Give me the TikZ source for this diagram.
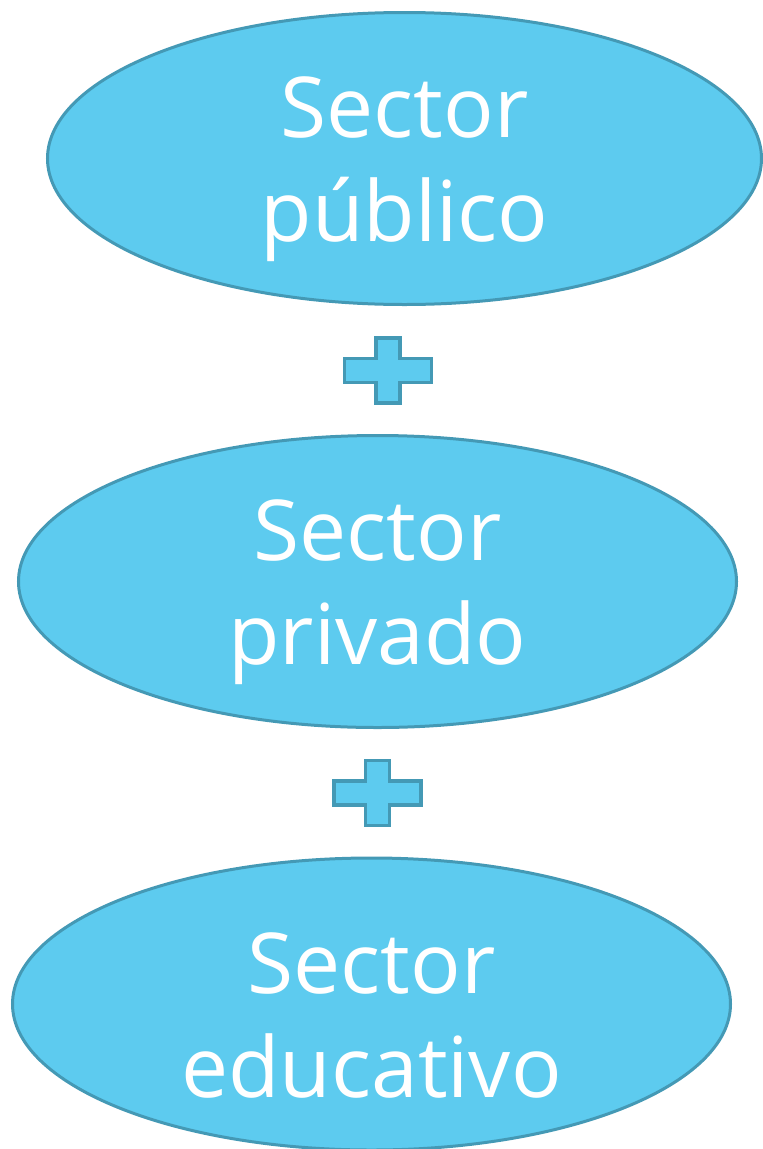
\documentclass[tikz,border=0pt]{standalone}
\usepackage{fontspec}
\setmainfont{Open Sans}
\usetikzlibrary{shapes.geometric,calc}
\definecolor{fillblue}{HTML}{5DCBEF}
\definecolor{edgeblue}{HTML}{4499B5}
\tikzset{
  sectorbox/.style={ellipse, draw=edgeblue, fill=fillblue, line width=3pt,
    inner sep=0pt},
  sectortext/.style={text=white, align=center, inner sep=0pt,
    font=\fontsize{84}{104}\selectfont},
  plusmark/.style={draw=edgeblue, fill=fillblue, line width=3.5pt, line join=miter}
}
\newcommand{\plussign}[1]{%
  \draw[plusmark] ($(#1)+(-12,-32.5)$) -- ++(24,0) -- ++(0,20.5) -- ++(31.5,0) -- ++(0,24) -- ++(-31.5,0) -- ++(0,20.5) -- ++(-24,0) -- ++(0,-20.5) -- ++(-31.5,0) -- ++(0,-24) -- ++(31.5,0) -- cycle;}
\begin{document}
\begin{tikzpicture}[x=1pt,y=-1pt]
\useasboundingbox (0,0) rectangle (763,1149);
\node[sectorbox, minimum width=714pt, minimum height=292pt] (pub) at (404.5,158.5) {};
\node[sectorbox, minimum width=718pt, minimum height=292pt] (priv) at (377.5,581.5) {};
\node[sectorbox, minimum width=718pt, minimum height=292pt] (edu) at (371.5,1004) {};
\node[sectortext] (pubtxt) at ($(pub.center)+(0,11)$) {Sector\\público};
\node[sectortext] (privtxt) at ($(priv.center)+(0,11)$) {Sector\\privado};
\node[sectortext] (edutxt) at ($(edu.center)+(0,11)$) {Sector\\educativo};
\coordinate (p1) at (388,370.5);
\coordinate (p2) at (377.5,793);
\plussign{p1}
\plussign{p2}
\end{tikzpicture}
\end{document}
